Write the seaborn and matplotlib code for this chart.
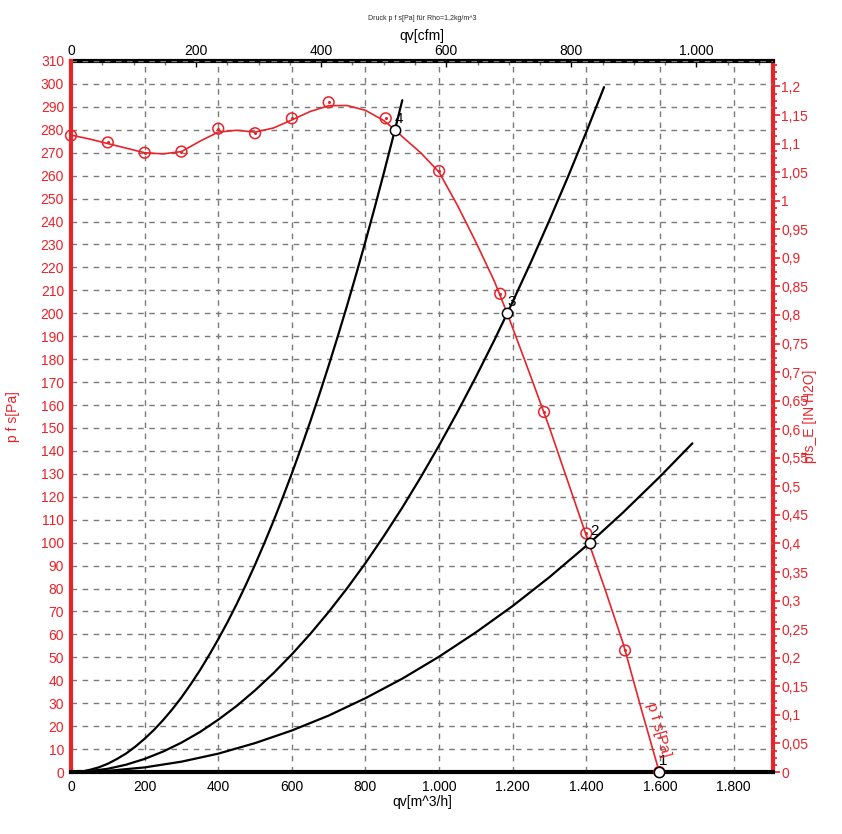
import matplotlib
matplotlib.use("Agg")
import matplotlib.pyplot as plt
import matplotlib.ticker as mticker
import seaborn as sns

# ---------------- data ----------------
# measured fan points (red open circles)
meas_q = [0, 100, 200, 300, 400, 500, 600, 700, 855, 1000, 1166, 1285, 1400, 1505, 1598]
meas_p = [277.5, 274.5, 270, 270.5, 280.5, 278.5, 285, 292, 285, 262, 208.5, 157, 104, 53, 0]

# smooth fan characteristic (red line)
fan_q = [0, 50, 100, 150, 200, 250, 300, 350, 400, 450, 500, 550, 600, 650, 700, 750,
         800, 850, 880, 900, 950, 1000, 1050, 1100, 1150, 1185, 1250, 1300, 1350, 1400,
         1450, 1500, 1550, 1598]
fan_p = [277.7, 276, 274, 272, 270, 269.5, 270.5, 275, 279, 279.8, 279, 280.8, 284.3,
         288, 290.5, 290.6, 288.5, 284, 280, 277, 270, 261.5, 247, 231, 214, 200, 172,
         150, 126.5, 103, 80, 56, 27, 0]

# system curves (black)
sys4_q = [40, 50, 75, 100, 125, 150, 175, 200, 225, 250, 275, 300, 325, 350, 375, 400,
          425, 450, 475, 500, 525, 550, 575, 600, 625, 650, 675, 700, 725, 750, 775,
          800, 825, 850, 880, 900]
sys4_p = [0.6, 0.9, 2.0, 3.6, 5.7, 8.1, 11.1, 14.5, 18.3, 22.6, 27.3, 32.5, 38.2, 44.3,
          50.9, 57.9, 65.3, 73.2, 81.6, 90.4, 99.7, 109.4, 119.6, 130.2, 141.3, 152.8,
          164.8, 177.2, 190.1, 203.4, 217.2, 231.4, 246.1, 261.3, 280, 292.9]
sys3_q = [40, 100, 150, 200, 250, 300, 350, 400, 450, 500, 550, 600, 650, 700, 750, 800,
          850, 900, 950, 1000, 1050, 1100, 1150, 1185, 1200, 1250, 1300, 1350, 1400, 1448]
sys3_p = [0.2, 1.4, 3.2, 5.7, 8.9, 12.8, 17.4, 22.8, 28.8, 35.6, 43.1, 51.3, 60.2, 69.8,
          80.1, 91.1, 102.9, 115.3, 128.5, 142.4, 157, 172.3, 188.3, 200, 205.1, 222.5,
          240.7, 259.5, 279.1, 298.6]
sys2_q = [40, 100, 200, 300, 400, 500, 600, 700, 800, 900, 1000, 1100, 1200, 1300, 1410,
          1500, 1600, 1688]
sys2_p = [0.1, 0.5, 2.0, 4.5, 8.0, 12.6, 18.1, 24.6, 32.2, 40.7, 50.3, 60.9, 72.4, 85.0,
          100, 113.2, 128.8, 143.3]

# operating points
op_labels = ["1", "2", "3", "4"]
op_q = [1598, 1410, 1185, 880]
op_p = [0, 100, 200, 280]

title = "Druck p f s[Pa] für Rho=1,2kg/m^3"
PA_PER_INH2O = 249.089
CFM_PER_M3H = 0.588578

# ---------------- style ----------------
sns.set_style("white")
plt.rcParams["font.family"] = ["Liberation Sans", "DejaVu Sans"]
RED = "#e8232a"

fig = plt.figure(figsize=(8.42, 8.34), dpi=100)
ax = fig.add_axes([71 / 842, 1 - 772 / 834, (773 - 71) / 842, (772 - 61) / 834])

ax.set_xlim(0, 1907)
ax.set_ylim(0, 310)

# grid
ax.set_xticks(range(0, 1801, 200))
ax.set_yticks(range(0, 311, 10))
ax.xaxis.set_minor_locator(mticker.MultipleLocator(50))
ax.yaxis.set_minor_locator(mticker.MultipleLocator(2))
ax.grid(True, which="major", color="#7a7a7a", linestyle=(0, (4, 4)), linewidth=1.0)
ax.set_axisbelow(True)

# system curves
for q, p in [(sys4_q, sys4_p), (sys3_q, sys3_p), (sys2_q, sys2_p)]:
    sns.lineplot(x=q, y=p, ax=ax, color="black", linewidth=1.6, sort=False,
                 estimator=None, zorder=3)

# fan curve
sns.lineplot(x=fan_q, y=fan_p, ax=ax, color=RED, linewidth=1.2, sort=False,
             estimator=None, zorder=4)
sns.scatterplot(x=meas_q, y=meas_p, ax=ax, s=60, facecolors="none",
                edgecolor=RED, linewidth=1.1, zorder=5, clip_on=False)
sns.scatterplot(x=meas_q, y=meas_p, ax=ax, s=5, color=RED, linewidth=0,
                zorder=5, clip_on=False)

# operating points
sns.scatterplot(x=op_q, y=op_p, ax=ax, s=55, color="white", edgecolor="black",
                linewidth=1.1, zorder=6, clip_on=False)
for lab, q, p in zip(op_labels, op_q, op_p):
    ax.annotate(lab, (q, p), xytext=(0, 3), textcoords="offset points",
                fontsize=11, color="black", ha="left", va="bottom", zorder=7)

ax.text(1598, 6, "p f s[Pa]", color=RED, fontsize=11, rotation=-74,
        rotation_mode="anchor", ha="right", va="bottom", zorder=7)

# formatters
def de_int(v, pos=None):
    return f"{int(round(v)):,}".replace(",", ".")

def de_dec(v, pos=None):
    return f"{round(v, 2):g}".replace(".", ",")

ax.xaxis.set_major_formatter(mticker.FuncFormatter(de_int))
ax.tick_params(axis="x", which="major", direction="out", length=4, width=1,
               colors="black", labelsize=10, pad=2)
ax.tick_params(axis="x", which="minor", direction="out", length=3, width=1, colors="#555555")
ax.tick_params(axis="x", labelcolor="black")
ax.tick_params(axis="y", which="major", direction="out", length=4, width=1.2,
               colors=RED, labelsize=10, pad=1)
ax.tick_params(axis="y", which="minor", direction="out", length=3, width=1.2, colors=RED)

ax.spines["left"].set_color(RED)
ax.spines["left"].set_linewidth(3)
ax.spines["bottom"].set_color("black")
ax.spines["bottom"].set_linewidth(3)
ax.spines["top"].set_visible(False)
ax.spines["right"].set_visible(False)

ax.set_xlabel("qv[m^3/h]", fontsize=10, color="black", labelpad=1)
ax.xaxis.set_label_coords(0.5, -0.032)
ax.set_ylabel("p f s[Pa]", fontsize=10, color=RED, labelpad=2)
ax.yaxis.set_label_coords(-0.073, 0.5)

# right axis in inches of water
ax_r = ax.secondary_yaxis("right", functions=(lambda p: p / PA_PER_INH2O,
                                             lambda i: i * PA_PER_INH2O))
ax_r.yaxis.set_major_locator(mticker.MultipleLocator(0.05))
ax_r.yaxis.set_minor_locator(mticker.MultipleLocator(0.0125))
ax_r.yaxis.set_major_formatter(mticker.FuncFormatter(de_dec))
ax_r.tick_params(axis="y", which="major", direction="out", length=5, width=1.2,
                 colors=RED, labelsize=10, pad=1)
ax_r.tick_params(axis="y", which="minor", direction="out", length=3, width=1.2, colors=RED)
ax_r.spines["right"].set_color(RED)
ax_r.spines["right"].set_linewidth(3)

fig.text(810 / 842, 1 - 416 / 834, "pfs_E [IN H2O]", fontsize=10, color=RED,
         rotation=90, ha="center", va="center")

# top axis in cfm
ax_t = ax.secondary_xaxis("top", functions=(lambda q: q * CFM_PER_M3H,
                                           lambda c: c / CFM_PER_M3H))
ax_t.xaxis.set_major_locator(mticker.MultipleLocator(200))
ax_t.xaxis.set_minor_locator(mticker.MultipleLocator(50))
ax_t.xaxis.set_major_formatter(mticker.FuncFormatter(de_int))
ax_t.tick_params(axis="x", which="major", direction="in", length=4, width=1,
                 colors="black", labelsize=10, pad=2)
ax_t.tick_params(axis="x", which="minor", direction="in", length=3, width=1, colors="#777777")
ax_t.tick_params(axis="x", labelcolor="black")
ax_t.spines["top"].set_color("black")
ax_t.spines["top"].set_linewidth(3)
ax_t.set_xlabel("qv[cfm]", fontsize=10, color="black", labelpad=3)

fig.text(422 / 842, 1 - 18 / 834, title, fontsize=5, ha="center", va="center")

fig.savefig("out.png", dpi=100)
